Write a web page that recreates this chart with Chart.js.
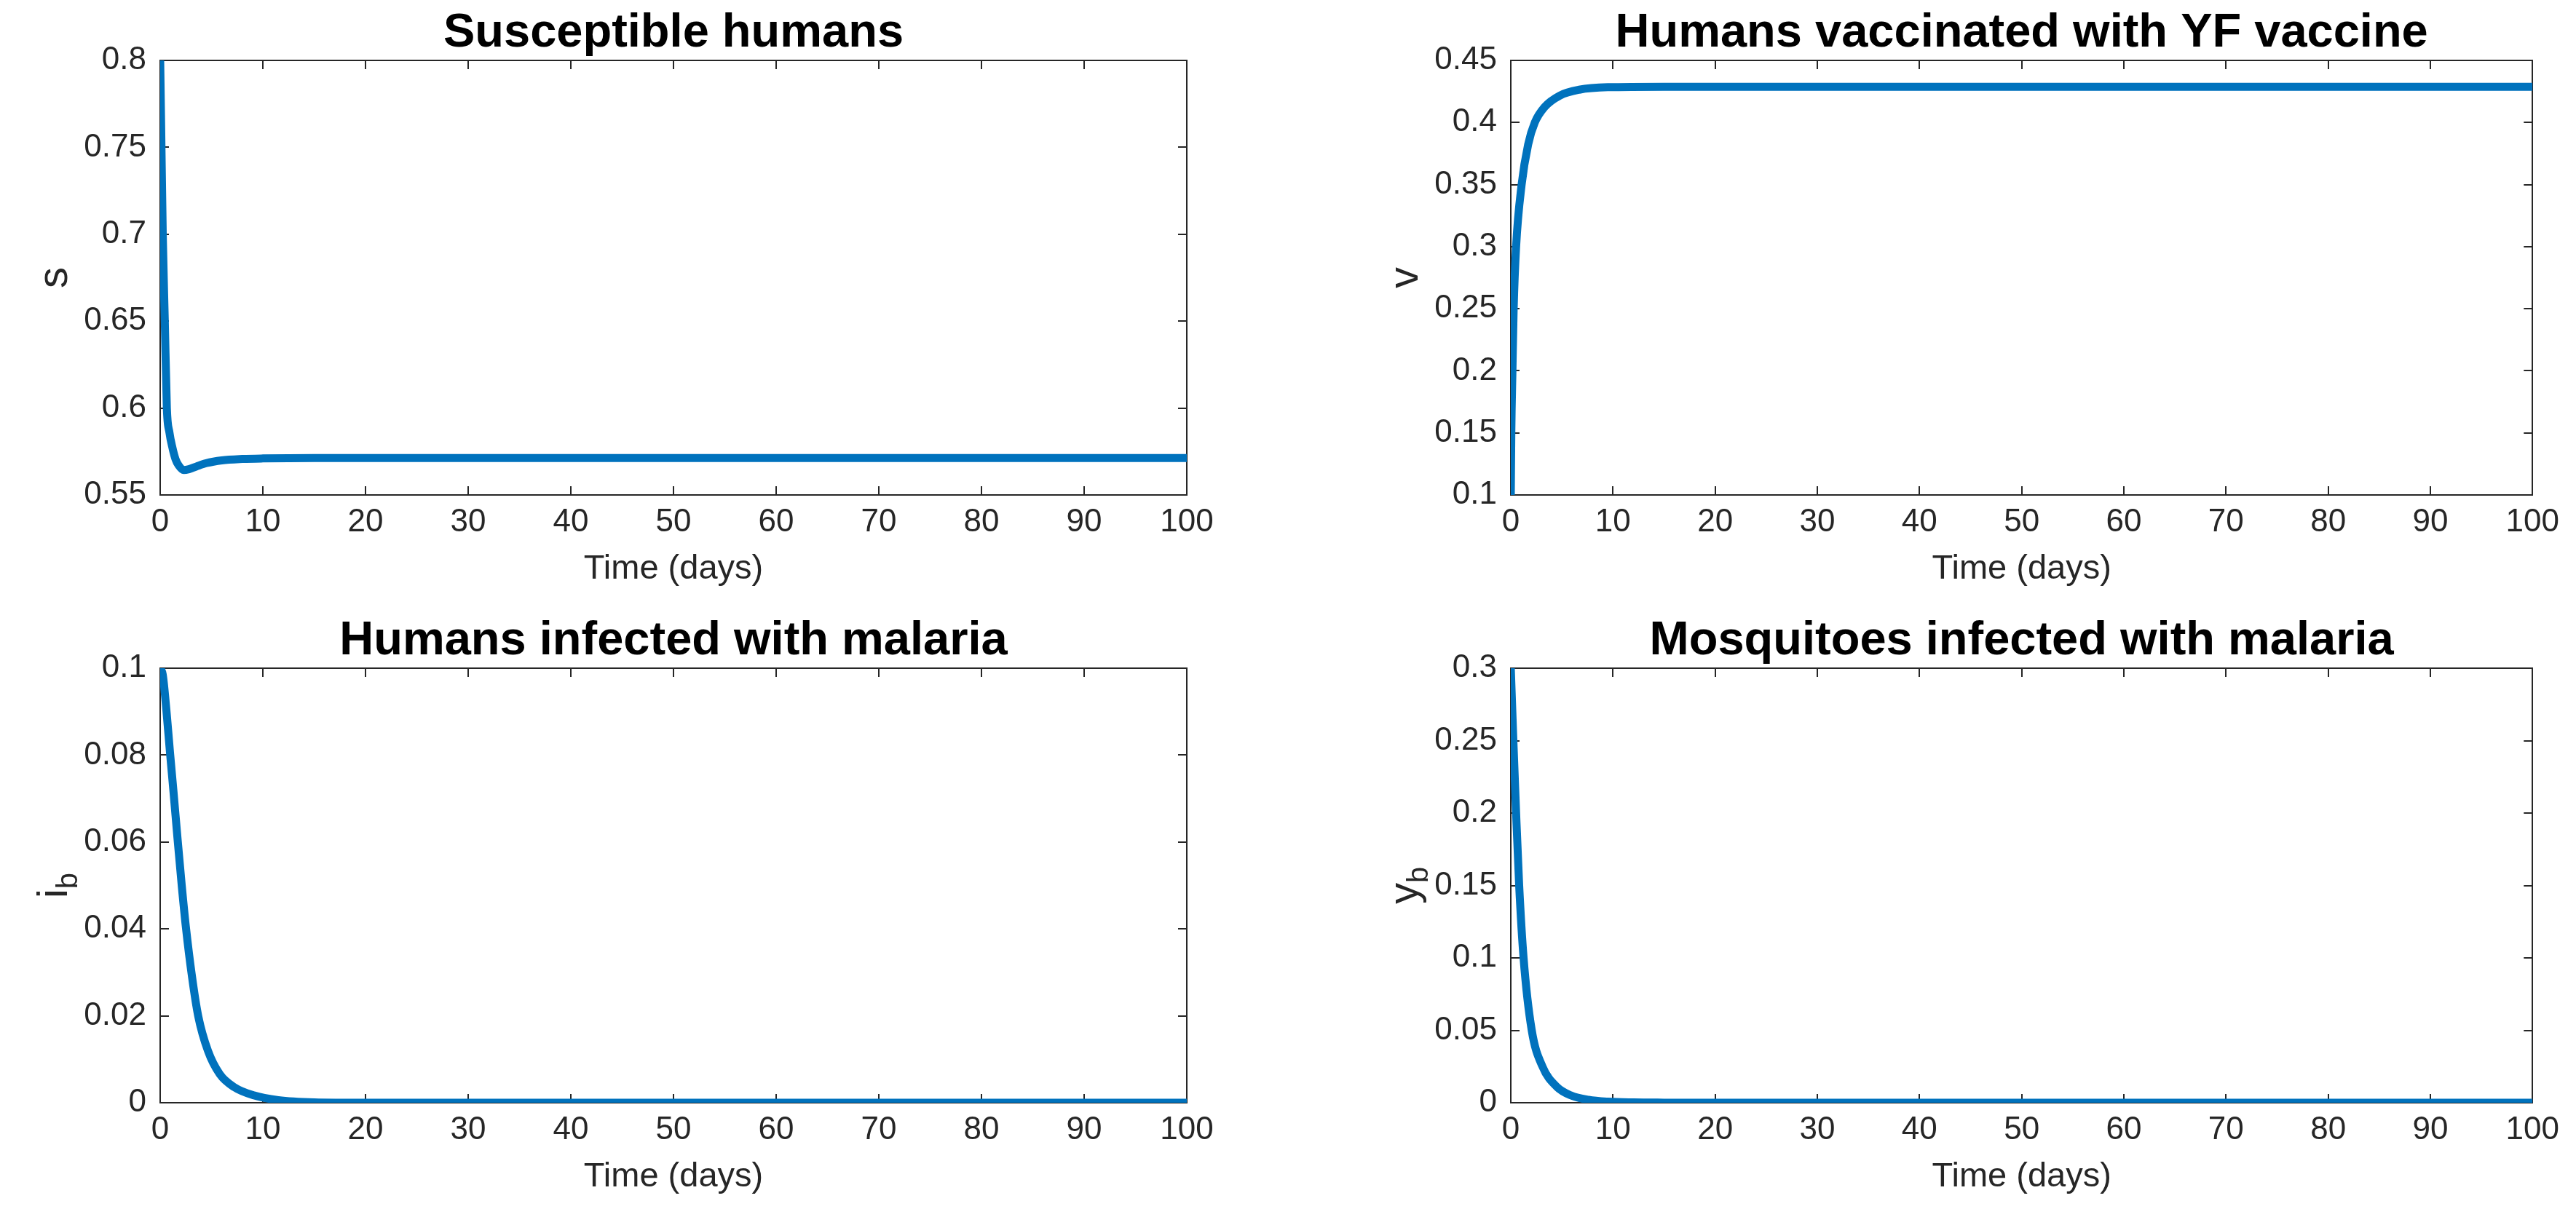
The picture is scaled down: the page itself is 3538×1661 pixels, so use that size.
<!DOCTYPE html>
<html>
<head>
<meta charset="utf-8">
<title>Model compartments</title>
<script src="https://cdn.jsdelivr.net/npm/chart.js@4.4.1/dist/chart.umd.min.js"></script>
<style>
  html, body { margin: 0; padding: 0; background: #fff; overflow: hidden; }
  #fig { position: relative; width: 3538px; height: 1661px; overflow: hidden; }
  canvas { position: absolute; }
</style>
</head>
<body>
<div id="fig">
  <canvas id="susChart" width="1769" height="835" style="left:0px;top:0px"></canvas>
  <canvas id="vacChart" width="1683" height="835" style="left:1855px;top:0px"></canvas>
  <canvas id="infChart" width="1769" height="835" style="left:0px;top:835px"></canvas>
  <canvas id="mosChart" width="1683" height="835" style="left:1855px;top:835px"></canvas>
</div>
<script>
// x axis ticks (days)
const timeTicks = [0, 10, 20, 30, 40, 50, 60, 70, 80, 90, 100]

// Susceptible humans
const tS = [0, 0.1, 0.25, 0.45, 0.65, 0.9, 1.2, 1.5, 1.8, 2.3, 2.8, 3.5, 4.5, 6, 8, 10, 15, 20, 30, 40, 50, 60, 70, 80, 90, 100]
const sVals = [0.8, 0.76, 0.70, 0.65, 0.60, 0.586, 0.577, 0.5705, 0.567, 0.5643, 0.5648, 0.5663, 0.5683, 0.5699, 0.5707, 0.571,
  0.5712, 0.5712, 0.5712, 0.5712, 0.5712, 0.5712, 0.5712, 0.5712, 0.5712, 0.5712]

// Humans vaccinated with YF vaccine
const tV = [0, 0.05, 0.16, 0.28, 0.52, 1.06, 1.7, 2.35, 3.3, 4.8, 6.7, 9.5, 15, 20, 30, 40, 50, 60, 70, 80, 90, 100]
const vVals = [0.1, 0.15, 0.2, 0.25, 0.3, 0.35, 0.3824, 0.4, 0.4124, 0.4217, 0.4264, 0.4284,
  0.4288, 0.4288, 0.4288, 0.4288, 0.4288, 0.4288, 0.4288, 0.4288, 0.4288, 0.4288]

// Humans infected with malaria
const tI = [0, 0.25, 0.6, 0.96, 1.3, 1.7, 2.1, 2.5, 3.1, 3.7, 4.66, 5.8, 7.2, 9.1, 11.5, 15, 20, 30, 40, 50, 60, 70, 80, 90, 100]
const iVals = [0.1, 0.0985, 0.0905, 0.0805, 0.0715, 0.0605, 0.05, 0.0405, 0.029, 0.02, 0.0119, 0.0066, 0.0036, 0.0017, 0.0006, 0.0001,
  0, 0, 0, 0, 0, 0, 0, 0, 0]

// Mosquitoes infected with malaria
const tY = [0, 0.25, 0.52, 0.82, 1.25, 2.05, 3.1, 4.5, 5.9, 7.6, 9.5, 12, 15, 20, 30, 40, 50, 60, 70, 80, 90, 100]
const yVals = [0.3, 0.25, 0.2, 0.15, 0.1, 0.05, 0.025, 0.011, 0.005, 0.002, 0.0007, 0.0002, 0.00005,
  0, 0, 0, 0, 0, 0, 0, 0, 0]

Chart.defaults.font.family = '"Liberation Sans", Arial, sans-serif'
Chart.defaults.color = '#262626'

const axisColor = '#262626'
const lineBlue = '#0072BD'
const fontFam = '"Liberation Sans", Arial, sans-serif'

// title above the plot box and rotated y label with optional subscript
const panelText = {
  id: 'panelText',
  afterDraw(chart, args, opts) {
    const ctx = chart.ctx
    const area = chart.chartArea
    ctx.save()
    ctx.fillStyle = '#000'
    ctx.font = 'bold 65px ' + fontFam
    ctx.textAlign = 'center'
    ctx.textBaseline = 'alphabetic'
    ctx.fillText(opts.title, (area.left + area.right) / 2, area.top - 19)

    ctx.fillStyle = axisColor
    ctx.translate(area.left - 128, (area.top + area.bottom) / 2)
    ctx.rotate(-Math.PI / 2)
    ctx.textAlign = 'left'
    ctx.font = '58px ' + fontFam
    const mainW = ctx.measureText(opts.label).width
    let subW = 0
    ctx.font = '40px ' + fontFam
    if (opts.sub) subW = ctx.measureText(opts.sub).width
    const x0 = -(mainW + subW) / 2
    ctx.font = '58px ' + fontFam
    ctx.fillText(opts.label, x0, 0)
    if (opts.sub) {
      ctx.font = '40px ' + fontFam
      ctx.fillText(opts.sub, x0 + mainW, 14)
    }
    ctx.restore()
  }
}

function fmt(v) {
  return String(+v.toFixed(4))
}

function makePanel(id, title, label, sub, times, values, yMin, yMax, yStep) {
  const canvas = document.getElementById(id)
  const points = times.map((t, i) => ({ x: t, y: values[i] }))
  const grid = { drawOnChartArea: false, tickLength: -12, lineWidth: 2, color: axisColor }
  const border = { color: axisColor, width: 2 }
  return new Chart(canvas, {
    type: 'line',
    data: {
      datasets: [{
        data: points,
        borderColor: lineBlue,
        borderWidth: 11,
        pointRadius: 0,
        cubicInterpolationMode: 'monotone',
        xAxisID: 'x',
        yAxisID: 'y'
      }]
    },
    plugins: [panelText],
    options: {
      responsive: false,
      animation: false,
      layout: { padding: { left: 0, top: 83, right: canvas.width - 1630, bottom: 0 } },
      plugins: {
        legend: { display: false },
        tooltip: { enabled: false },
        panelText: { title: title, label: label, sub: sub }
      },
      scales: {
        x: {
          type: 'linear', position: 'bottom', min: 0, max: 100,
          afterBuildTicks: s => { s.ticks = timeTicks.map(v => ({ value: v })) },
          ticks: { padding: 23, font: { size: 44 }, color: axisColor, maxRotation: 0, autoSkip: false },
          grid: grid, border: border,
          title: { display: true, text: 'Time (days)', font: { size: 47 }, color: axisColor, padding: { top: 0, bottom: 25 } },
          afterFit: s => { s.height = 155 }
        },
        x2: {
          type: 'linear', position: 'top', min: 0, max: 100,
          afterBuildTicks: s => { s.ticks = timeTicks.map(v => ({ value: v })) },
          ticks: { display: false },
          grid: grid, border: border,
          afterFit: s => { s.height = 0 }
        },
        y: {
          type: 'linear', position: 'left', min: yMin, max: yMax,
          ticks: { stepSize: yStep, padding: 31, font: { size: 44 }, color: axisColor, callback: fmt },
          grid: grid, border: border,
          afterFit: s => { s.width = 220 }
        },
        y2: {
          type: 'linear', position: 'right', min: yMin, max: yMax,
          ticks: { stepSize: yStep, display: false },
          grid: grid, border: border,
          afterFit: s => { s.width = 0 }
        }
      }
    }
  })
}

makePanel('susChart', 'Susceptible humans', 's', '', tS, sVals, 0.55, 0.8, 0.05)
makePanel('vacChart', 'Humans vaccinated with YF vaccine', 'v', '', tV, vVals, 0.1, 0.45, 0.05)
makePanel('infChart', 'Humans infected with malaria', 'i', 'b', tI, iVals, 0, 0.1, 0.02)
makePanel('mosChart', 'Mosquitoes infected with malaria', 'y', 'b', tY, yVals, 0, 0.3, 0.05)
</script>
</body>
</html>
